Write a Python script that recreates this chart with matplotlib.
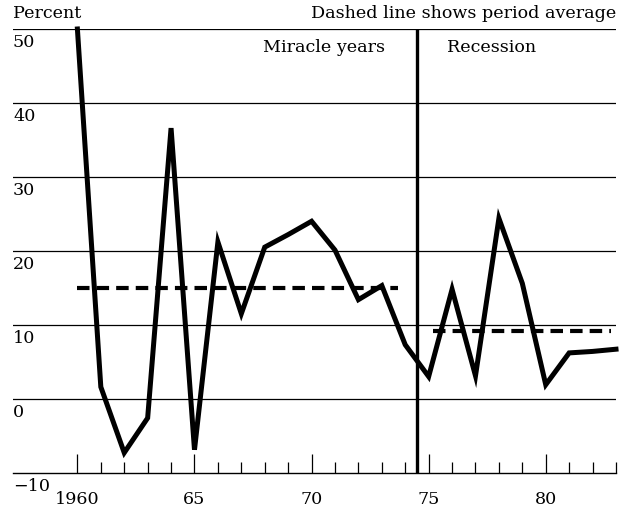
import numpy as np
import matplotlib.pyplot as plt
from matplotlib.transforms import offset_copy

plt.rcParams['font.family'] = ['DejaVu Serif']

years = np.arange(1960, 1984)
percent = [50, 1.6, -7.3, -2.6, 36.6, -6.9, 21.2, 11.5, 20.5, 22.2, 24.0, 20.1,
           13.4, 15.3, 7.3, 3.0, 14.8, 3.1, 24.4, 15.6, 1.9, 6.2, 6.4, 6.7]
avg_periods = [(1960, 1973.7), (1975.2, 1982.8)]
avg_values = [15.0, 9.2]
yticks = [-10, 0, 10, 20, 30, 40, 50]
xmajor = [1960, 1965, 1970, 1975, 1980]
xlabels = ['1960', '65', '70', '75', '80']

fs = 12.6
fig = plt.figure(figsize=(6.21, 5.12), dpi=100)
ax = fig.add_axes([13/621, 1 - 472.7/512, (616-13)/621, (472.7-29)/512])
ax.set_xlim(1957.25, 1983.0)
ax.set_ylim(-10, 50)

for s in ['left', 'right', 'top']:
    ax.spines[s].set_visible(False)
ax.spines['bottom'].set_linewidth(1.0)

for v in yticks[1:]:
    ax.axhline(v, color='black', lw=0.9, zorder=1)
ax.set_yticks([])
ytrans = offset_copy(ax.get_yaxis_transform(), fig=fig, x=0, y=-3.5, units='points')
for v in yticks:
    ax.text(0.0, v, str(v).replace('-', '\u2212'), transform=ytrans,
            ha='left', va='top', fontsize=fs)

ax.set_xticks(xmajor)
ax.set_xticklabels(xlabels, fontsize=fs)
ax.set_xticks(years, minor=True)
ax.tick_params(axis='x', which='major', direction='in', length=14, width=0.9, pad=13)
ax.tick_params(axis='x', which='minor', direction='in', length=8, width=0.9)

ax.axvline(1974.5, color='black', lw=2.4, zorder=2)

ax.plot(years, percent, color='black', lw=3.6, solid_joinstyle='miter', zorder=3, clip_on=False)

for (x0, x1), v in zip(avg_periods, avg_values):
    ax.plot([x0, x1], [v, v], color='black', lw=3.0, dashes=(3, 1.7), zorder=3)

ax.text(0.0, 1.015, 'Percent', transform=ax.transAxes, ha='left', va='bottom', fontsize=fs)
ax.text(1.0, 1.015, 'Dashed line shows period average', transform=ax.transAxes,
        ha='right', va='bottom', fontsize=fs)
ax.text(1973.13, 48.6, 'Miracle years', ha='right', va='top', fontsize=fs)
ax.text(1975.78, 48.6, 'Recession', ha='left', va='top', fontsize=fs)

fig.savefig('out.png', dpi=100)
